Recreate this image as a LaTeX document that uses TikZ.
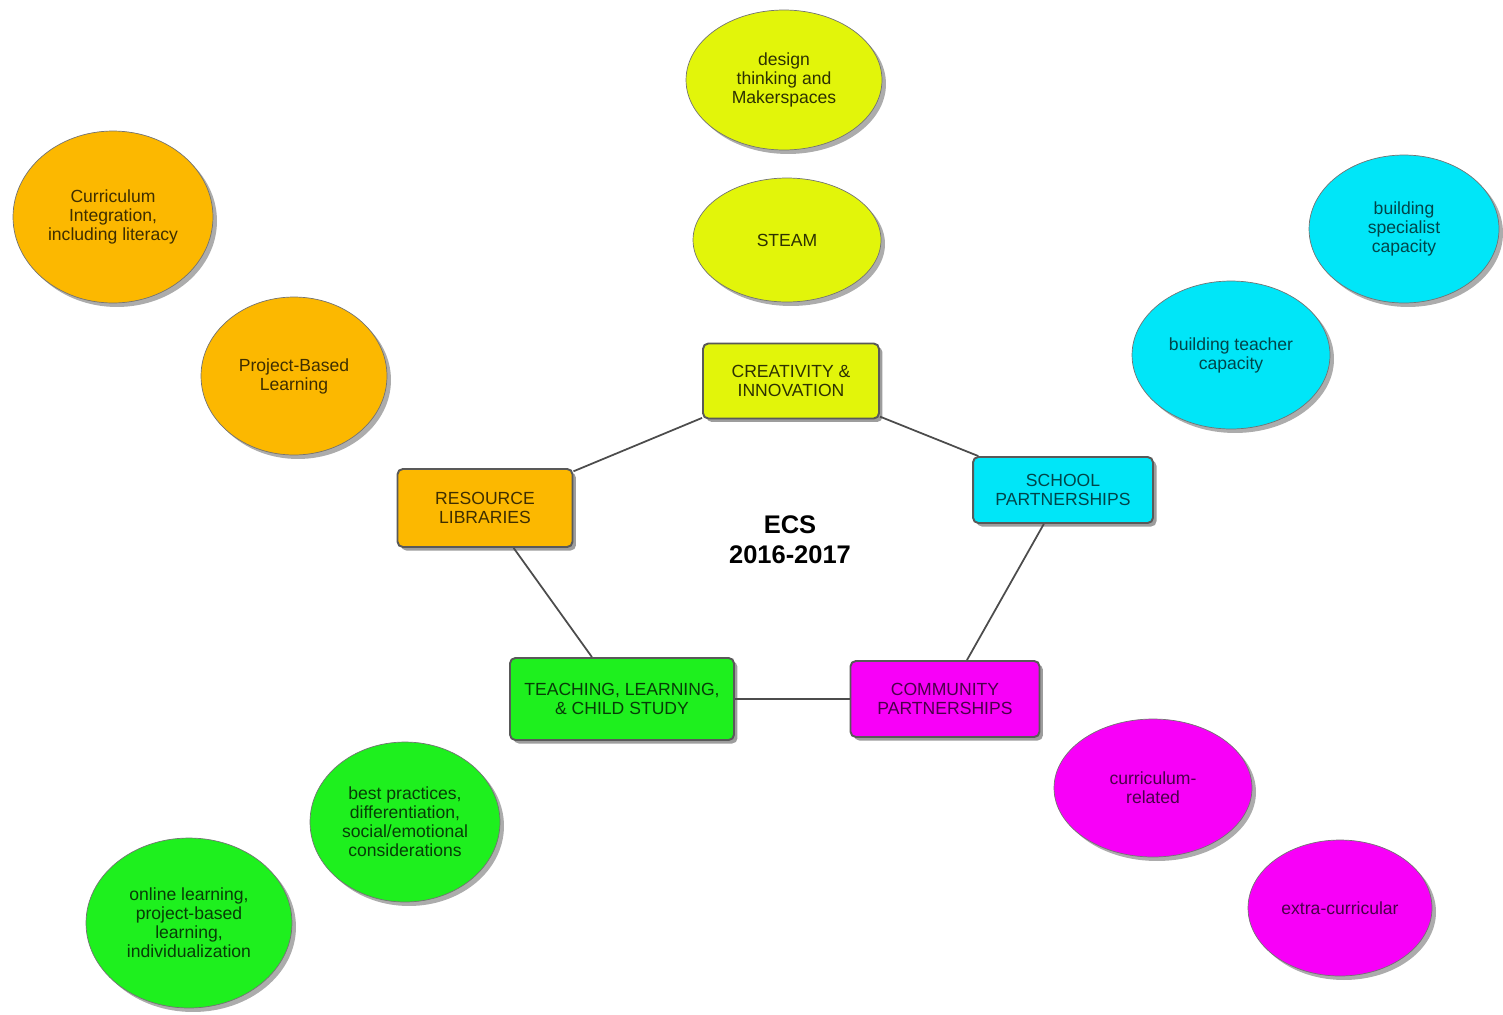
\documentclass[tikz,border=0pt]{standalone}
\usepackage{fontspec}
\setmainfont{Liberation Sans}
\usetikzlibrary{shapes.geometric,shadows}
\definecolor{ecsyellow}{HTML}{E2F50A}
\definecolor{ecsorange}{HTML}{FCB800}
\definecolor{ecscyan}{HTML}{00E6F8}
\definecolor{ecsmagenta}{HTML}{F800F8}
\definecolor{ecsgreen}{HTML}{1EF01E}
\begin{document}
\begin{tikzpicture}[x=0.02cm,y=-0.02cm,
  topic/.style={rectangle, rounded corners=3pt, draw=black!65, line width=1.1pt, align=center,
    font=\fontsize{10}{10.8}\selectfont, inner sep=2pt,
    drop shadow={shadow xshift=0.07cm, shadow yshift=-0.07cm, fill=black!55, opacity=.7}},
  idea/.style={ellipse, draw=black!55, line width=0.4pt, align=center, inner sep=0pt,
    font=\fontsize{10}{10.8}\selectfont,
    drop shadow={shadow xshift=0.08cm, shadow yshift=-0.08cm, fill=black!50, opacity=.65}},
  link/.style={draw=black!70, line width=1pt}]
\useasboundingbox (0,0) rectangle (1503,1014);
% central label
\node[font=\fontsize{14.5}{17}\selectfont\bfseries, align=center] (E) at (790,540) {ECS\\2016-2017};
% topics
\node[topic, fill=ecsyellow, text=black!80!ecsyellow, minimum width=3.52cm, minimum height=1.5cm] (C) at (791,381) {CREATIVITY \&\\INNOVATION};
\node[topic, fill=ecsorange, text=black!75!ecsorange, minimum width=3.5cm, minimum height=1.56cm] (R) at (485,508) {RESOURCE\\LIBRARIES};
\node[topic, fill=ecscyan, text=black!70!ecscyan, minimum width=3.6cm, minimum height=1.32cm] (S) at (1063,490) {SCHOOL\\PARTNERSHIPS};
\node[topic, fill=ecsgreen, text=black!75!ecsgreen, minimum width=4.48cm, minimum height=1.64cm] (T) at (622,699) {TEACHING, LEARNING,\\\& CHILD STUDY};
\node[topic, fill=ecsmagenta, text=black!70!ecsmagenta, minimum width=3.78cm, minimum height=1.52cm] (P) at (945,699) {COMMUNITY\\PARTNERSHIPS};
% ideas
\node[idea, fill=ecsyellow, text=black!80!ecsyellow, minimum width=3.92cm, minimum height=2.8cm] (DT) at (784,80) {design\\thinking and\\Makerspaces};
\node[idea, fill=ecsyellow, text=black!80!ecsyellow, minimum width=3.76cm, minimum height=2.48cm] (ST) at (787,240) {STEAM};
\node[idea, fill=ecsorange, text=black!75!ecsorange, minimum width=4cm, minimum height=3.44cm] (CI) at (113,217) {Curriculum\\Integration,\\including literacy};
\node[idea, fill=ecsorange, text=black!75!ecsorange, minimum width=3.72cm, minimum height=3.16cm] (PB) at (294,376) {Project-Based\\Learning};
\node[idea, fill=ecscyan, text=black!70!ecscyan, minimum width=3.8cm, minimum height=2.96cm] (SC) at (1404,229) {building\\specialist\\capacity};
\node[idea, fill=ecscyan, text=black!70!ecscyan, minimum width=3.96cm, minimum height=2.96cm] (TC) at (1231,355) {building teacher\\capacity};
\node[idea, fill=ecsmagenta, text=black!70!ecsmagenta, minimum width=3.96cm, minimum height=2.76cm] (CR) at (1153,788) {curriculum-\\related};
\node[idea, fill=ecsmagenta, text=black!70!ecsmagenta, minimum width=3.68cm, minimum height=2.72cm] (EC) at (1340,908) {extra-curricular};
\node[idea, fill=ecsgreen, text=black!75!ecsgreen, minimum width=3.8cm, minimum height=3.2cm] (BP) at (405,822) {best practices,\\differentiation,\\social/emotional\\considerations};
\node[idea, fill=ecsgreen, text=black!75!ecsgreen, minimum width=4.12cm, minimum height=3.4cm] (OL) at (189,923) {online learning,\\project-based\\learning,\\individualization};
% connectors
\draw[link] (C) -- (R);
\draw[link] (C) -- (S);
\draw[link] (S) -- (P);
\draw[link] (P) -- (T);
\draw[link] (T) -- (R);
\end{tikzpicture}
\end{document}
